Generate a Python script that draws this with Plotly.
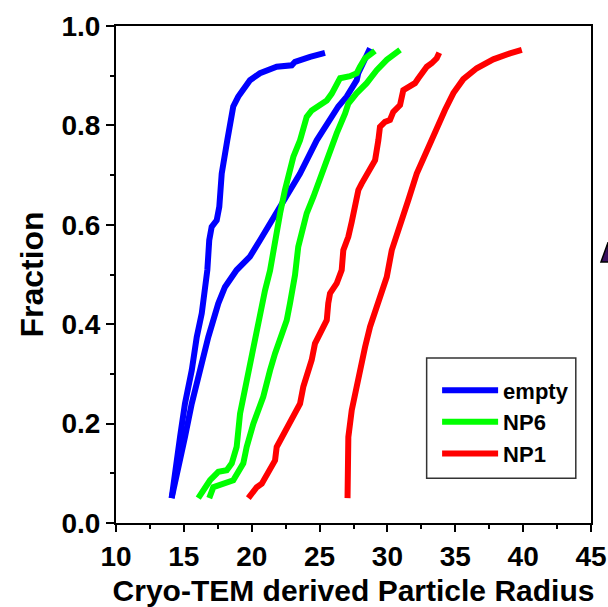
import plotly.graph_objects as go

# ---- data ----
empty_a_radius = [14.10, 14.35, 14.72, 15.08, 15.58, 15.95, 16.32, 16.73, 16.87, 17.05, 17.42, 17.61,
                  17.79, 18.20, 18.40, 18.64, 19.01, 19.51, 19.87, 20.61, 21.84, 22.95, 23.19, 24.30, 25.40]
empty_a_frac = [0.050, 0.106, 0.173, 0.240, 0.307, 0.374, 0.422, 0.509, 0.569, 0.596, 0.609, 0.636,
                0.703, 0.770, 0.797, 0.838, 0.858, 0.878, 0.891, 0.905, 0.918, 0.921, 0.928, 0.938, 0.946]

empty_b_radius = [14.10, 14.59, 15.08, 15.58, 16.19, 16.80, 17.54, 18.03, 18.89, 19.87, 20.61, 22.08,
                  23.56, 24.79, 25.53, 26.38, 27.00, 27.49, 27.74, 27.85, 28.10, 28.47, 28.72]
empty_b_frac = [0.050, 0.106, 0.173, 0.240, 0.307, 0.374, 0.442, 0.475, 0.509, 0.536, 0.569, 0.636,
                0.703, 0.770, 0.804, 0.838, 0.858, 0.878, 0.891, 0.905, 0.918, 0.938, 0.955]

np6_a_radius = [16.06, 16.93, 17.54, 18.16, 18.53, 18.89, 19.14, 19.63, 19.75, 20.00, 20.37, 20.61,
                20.98, 21.35, 21.72, 22.09, 22.45, 22.95, 23.07, 23.56, 23.80, 24.05, 24.42, 25.03,
                25.53, 25.90, 26.26, 26.51, 27.24, 27.74, 27.98, 28.35, 28.84, 29.08]
np6_a_frac = [0.050, 0.086, 0.103, 0.106, 0.120, 0.153, 0.220, 0.287, 0.307, 0.341, 0.388, 0.422,
              0.468, 0.508, 0.569, 0.623, 0.670, 0.717, 0.737, 0.770, 0.790, 0.817, 0.830, 0.840,
              0.850, 0.864, 0.885, 0.895, 0.899, 0.905, 0.918, 0.935, 0.945, 0.950]

np6_b_radius = [16.87, 17.17, 18.64, 19.38, 19.63, 20.12, 20.85, 21.10, 21.35, 21.72, 22.09, 22.58,
                22.82, 23.19, 23.43, 24.05, 24.54, 25.16, 25.77, 26.26, 26.88, 27.12, 27.74, 28.47,
                29.21, 29.95, 30.93]
np6_b_frac = [0.050, 0.072, 0.086, 0.120, 0.153, 0.200, 0.254, 0.287, 0.307, 0.341, 0.374, 0.408,
              0.442, 0.499, 0.556, 0.623, 0.656, 0.703, 0.749, 0.784, 0.824, 0.844, 0.865, 0.885,
              0.911, 0.932, 0.952]

np1_a_radius = [19.75, 20.37, 20.74, 21.35, 21.72, 21.84, 22.21, 22.58, 23.07, 23.56, 23.80, 24.05,
                24.42, 24.66, 25.16, 25.53, 25.64, 25.77, 26.26, 26.63, 26.75, 27.12, 27.37, 27.61,
                27.86, 28.10, 28.72, 29.09, 29.33, 29.45, 29.82, 30.19, 30.43, 30.93, 31.17, 31.54,
                32.03, 32.28, 32.53, 32.90, 33.26, 33.63, 33.82]
np1_a_frac = [0.050, 0.072, 0.079, 0.106, 0.126, 0.153, 0.173, 0.187, 0.213, 0.240, 0.274, 0.294,
              0.328, 0.361, 0.388, 0.408, 0.442, 0.462, 0.482, 0.509, 0.549, 0.576, 0.606, 0.636,
              0.670, 0.683, 0.710, 0.730, 0.770, 0.797, 0.807, 0.811, 0.827, 0.841, 0.871, 0.878,
              0.885, 0.895, 0.905, 0.918, 0.925, 0.935, 0.946]

np1_b_radius = [27.06, 27.04, 27.12, 27.37, 27.61, 27.98, 28.35, 28.72, 29.09, 29.45, 29.95, 30.32,
                30.93, 31.54, 32.16, 32.90, 33.63, 34.24, 34.86, 35.59, 36.58, 37.80, 39.03, 39.90]
np1_b_frac = [0.050, 0.106, 0.173, 0.227, 0.261, 0.307, 0.354, 0.395, 0.428, 0.455, 0.495, 0.549,
              0.596, 0.650, 0.703, 0.750, 0.797, 0.831, 0.865, 0.893, 0.915, 0.933, 0.945, 0.952]

series_names = ["empty", "NP6", "NP1"]
series_colors = ["#0000ff", "#00ff00", "#ff0000"]
x_ticks = [10, 15, 20, 25, 30, 35, 40, 45]
y_ticks = [0.0, 0.2, 0.4, 0.6, 0.8, 1.0]

curves = [
    (0, empty_a_radius, empty_a_frac, True),
    (0, empty_b_radius, empty_b_frac, False),
    (1, np6_a_radius, np6_a_frac, True),
    (1, np6_b_radius, np6_b_frac, False),
    (2, np1_a_radius, np1_a_frac, True),
    (2, np1_b_radius, np1_b_frac, False),
]

FONT = "Arial, Liberation Sans, sans-serif"

fig = go.Figure()
for idx, xs, ys, show in curves:
    fig.add_trace(go.Scatter(
        x=xs, y=ys, mode="lines", name=series_names[idx],
        legendgroup=series_names[idx], showlegend=show,
        line=dict(color=series_colors[idx], width=6, shape="linear"),
    ))

fig.update_layout(
    width=608, height=607,
    margin=dict(l=116, r=17, t=26, b=84),
    paper_bgcolor="white", plot_bgcolor="white",
    showlegend=True,
    legend=dict(
        x=0.676, y=0.309, xanchor="left", yanchor="top",
        bgcolor="rgba(0,0,0,0)", borderwidth=0,
        font=dict(family=FONT, size=22, color="black", weight="bold"),
        itemwidth=56, tracegroupgap=0,
    ),
    xaxis=dict(
        range=[10, 45], tickvals=x_ticks, ticks="outside", ticklen=7, tickwidth=2,
        tickcolor="black", showline=True, linecolor="black", linewidth=2, mirror=True,
        showgrid=False, zeroline=False, automargin=False,
        tickfont=dict(family=FONT, size=28, color="black", weight="bold"),
        minor=dict(dtick=2.5, ticks="outside", ticklen=4, tickwidth=2, tickcolor="black", showgrid=False),
        title=dict(text="Cryo-TEM derived Particle Radius", standoff=11,
                   font=dict(family=FONT, size=30, color="black", weight="bold")),
    ),
    yaxis=dict(
        range=[0, 1.0], tickvals=y_ticks, tickformat=".1f", ticks="outside", ticklen=8, tickwidth=2,
        tickcolor="black", showline=True, linecolor="black", linewidth=2, mirror=True,
        showgrid=False, zeroline=False, automargin=False,
        tickfont=dict(family=FONT, size=28, color="black", weight="bold"),
        minor=dict(dtick=0.1, ticks="outside", ticklen=4, tickwidth=2, tickcolor="black", showgrid=False),
        title=dict(text="Fraction", standoff=8,
                   font=dict(family=FONT, size=32, color="black", weight="bold")),
    ),
)

# legend frame
fig.add_shape(type="rect", xref="paper", yref="paper",
              x0=0.654, x1=0.968, y0=0.090, y1=0.332,
              line=dict(color="#333333", width=1.5), fillcolor="rgba(0,0,0,0)", layer="below")

# cropped arrow fragment at the right edge of the reference image
fig.add_shape(type="path", xref="paper", yref="paper",
              path="M 1.036 0.565 L 1.021 0.525 L 1.038 0.525 Z",
              fillcolor="#3a1060", line=dict(color="black", width=1.5))

fig.write_html("out.html")
